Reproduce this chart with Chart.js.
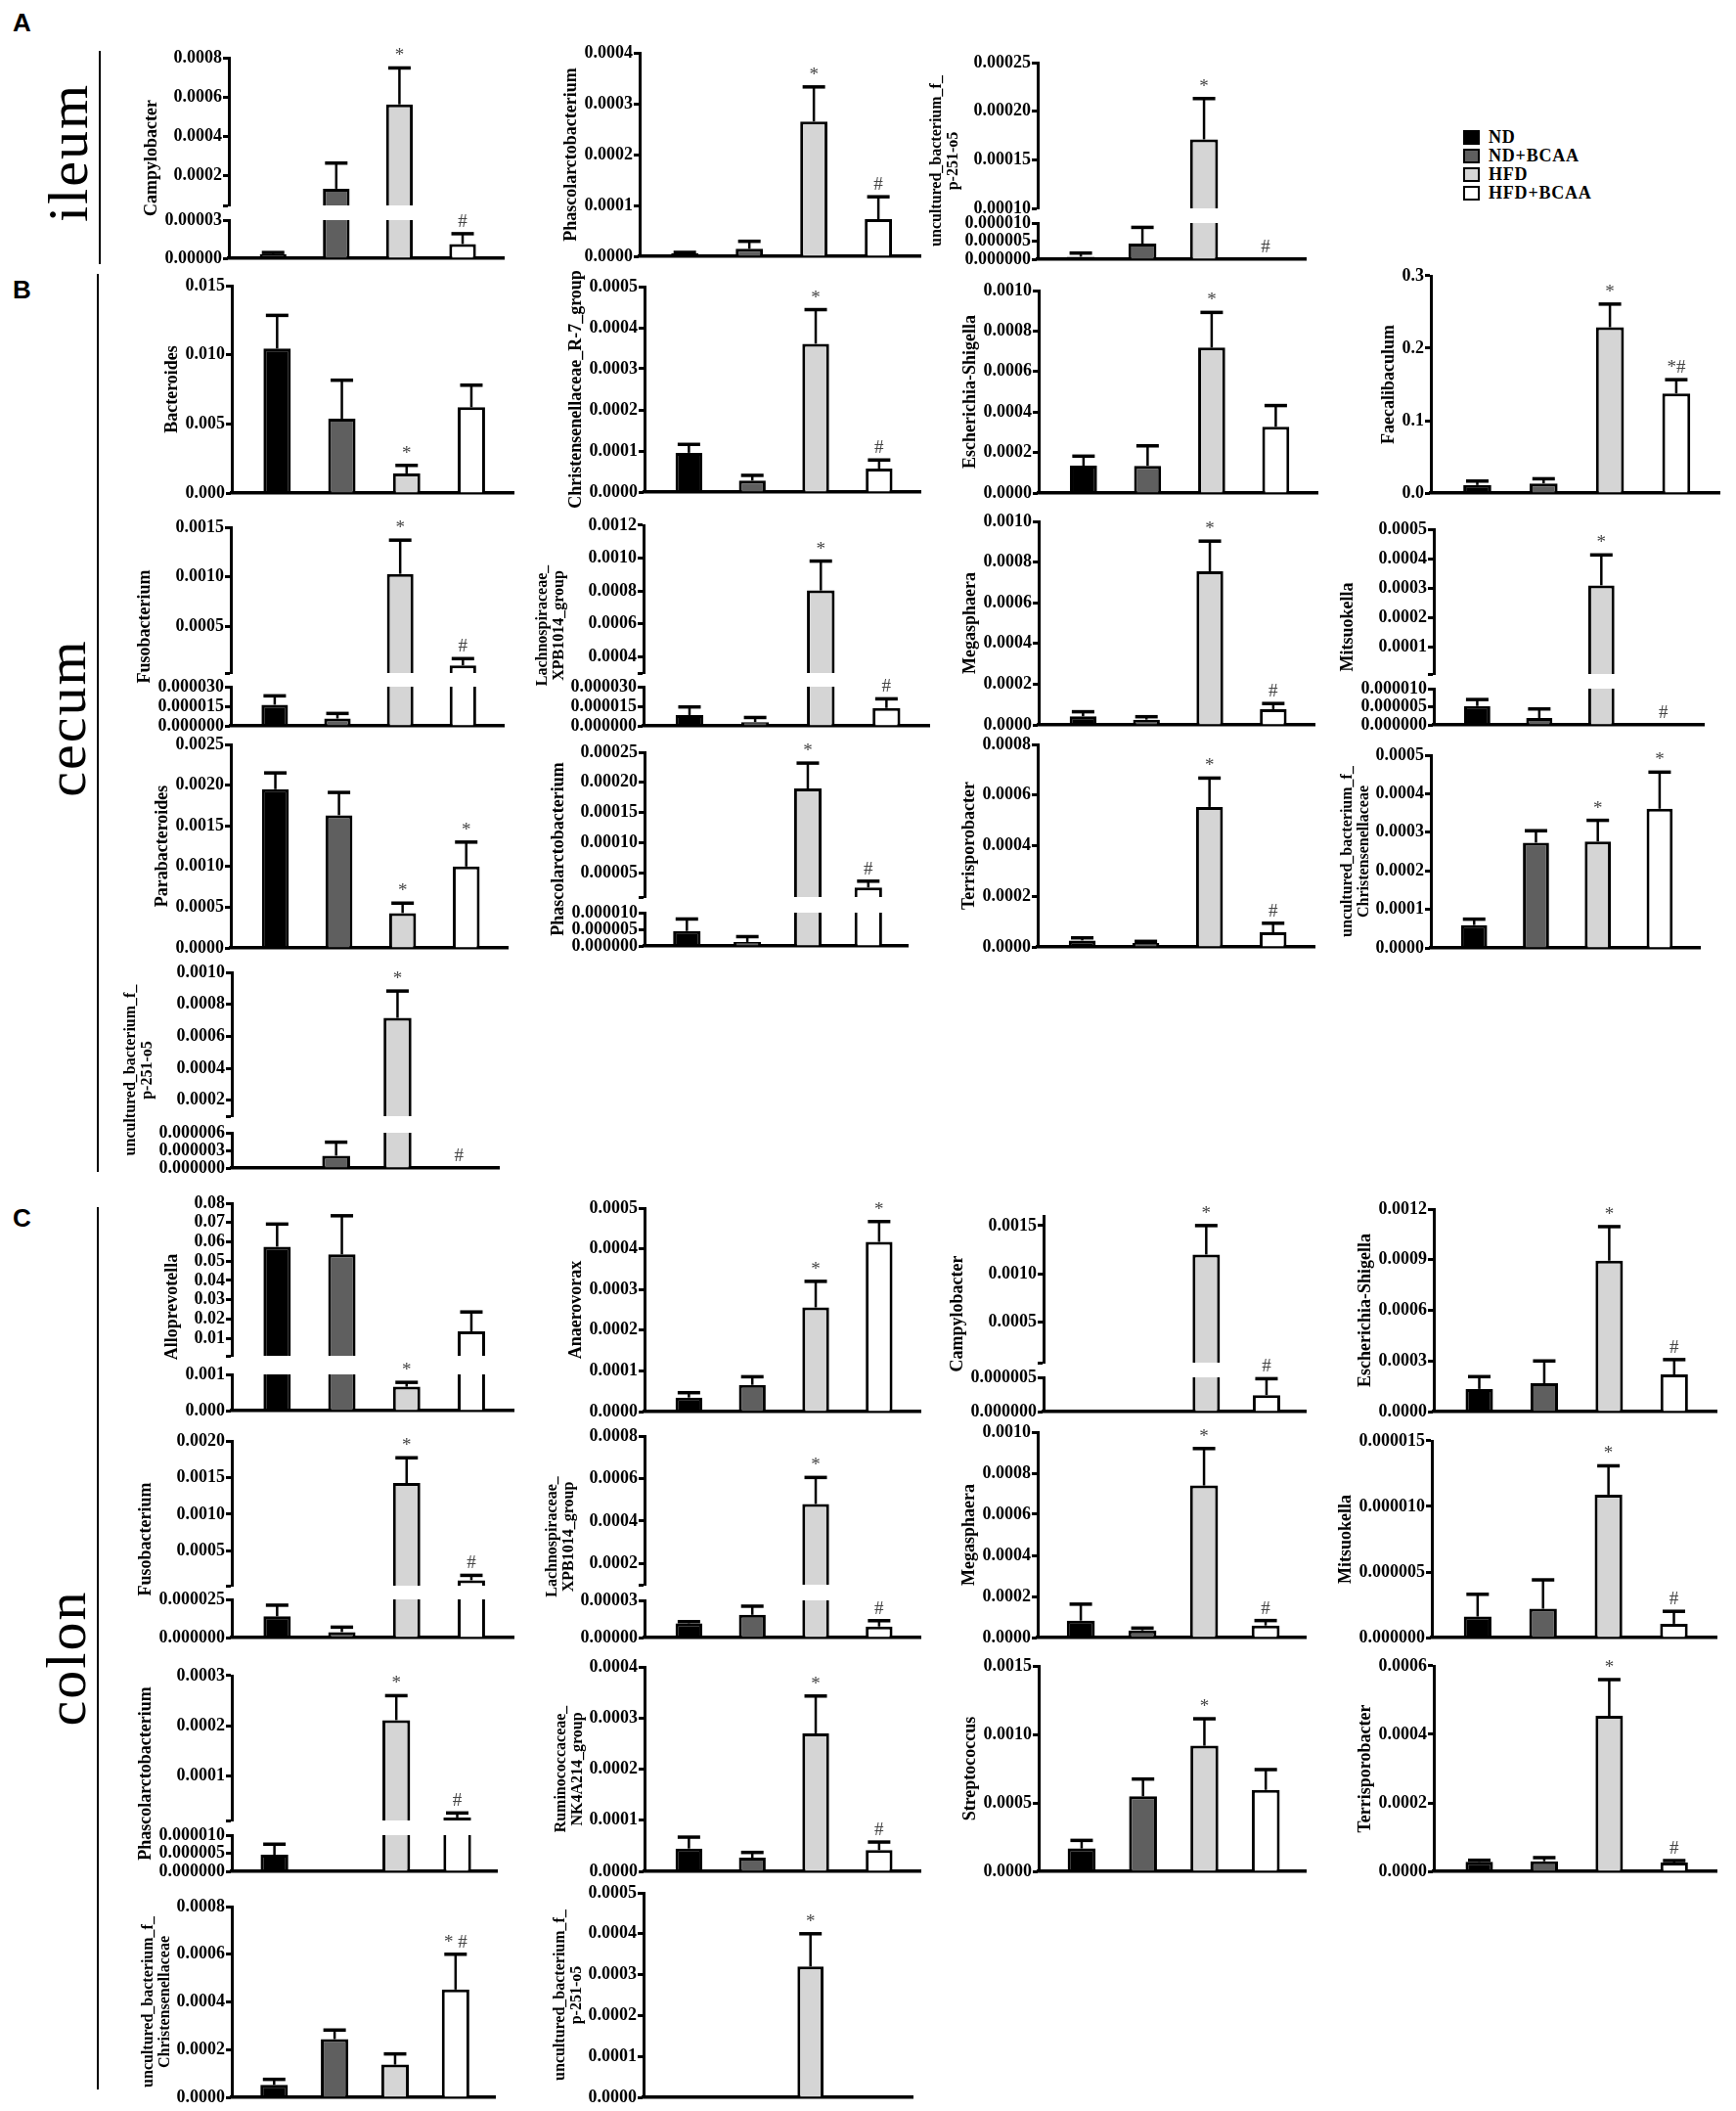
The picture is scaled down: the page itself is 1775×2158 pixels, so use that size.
<!DOCTYPE html>
<html>
<head>
<meta charset="utf-8">
<script src="https://cdn.jsdelivr.net/npm/chart.js"></script>
<style>
  body { margin: 0; background: #fff; width: 1775px; height: 2158px; position: relative; overflow: hidden; }
  canvas { position: absolute; }
  .tag { position: absolute; font: bold 26px "Liberation Sans", Arial, sans-serif; line-height: 1; }
  .site { position: absolute; font: 58px "Liberation Serif", serif; letter-spacing: 2px; line-height: 1; white-space: nowrap;
          transform: translate(-50%, -50%) rotate(-90deg); }
  .rule { position: absolute; width: 2px; background: #000; }
  .legend { position: absolute; left: 1496px; top: 131px; font: bold 18px "Liberation Serif", serif; letter-spacing: 0.8px; }
  .legend div { height: 19px; display: flex; align-items: center; }
  .legend .sw { display: inline-block; width: 13px; height: 11px; border: 2.5px solid #000; margin-right: 9px; }
</style>
</head>
<body>
<div class="tag" style="left:13px;top:10px">A</div>
<div class="tag" style="left:13px;top:283px">B</div>
<div class="tag" style="left:13px;top:1232px">C</div>
<div class="site" style="left:70px;top:156px">ileum</div>
<div class="site" style="left:68px;top:734px">cecum</div>
<div class="site" style="left:68px;top:1695px">colon</div>
<div class="rule" style="left:101px;top:52px;height:218px"></div>
<div class="rule" style="left:99px;top:280px;height:918px"></div>
<div class="rule" style="left:99px;top:1234px;height:902px"></div>
<div class="legend" id="legend"></div>

<script>
const groups = ["ND", "ND+BCAA", "HFD", "HFD+BCAA"];
const groupColors = ["#000000", "#5f5f5f", "#d5d5d5", "#ffffff"];

// ileum
const ileumCampylobacter = [0.0000033, 0.000135, 0.000563, 0.0000112];
const ileumCampylobacterSem = [0.0000012, 0.00013, 0.000185, 0.0000081];
const ileumCampylobacterSig = ["", "", "*", "#"];
const ileumPhascolarctobacterium = [0.0000058, 0.0000147, 0.000265, 0.000073];
const ileumPhascolarctobacteriumSem = [0.0000019, 0.0000148, 0.000068, 0.000044];
const ileumPhascolarctobacteriumSig = ["", "", "*", "#"];
const ileumP2515 = [0.0000007, 0.0000043, 0.000171, 0];
const ileumP2515Sem = [0.000001, 0.0000045, 0.000042, 0];
const ileumP2515Sig = ["", "", "*", "#"];

// cecum
const cecumBacteroides = [0.01045, 0.00538, 0.00142, 0.0062];
const cecumBacteroidesSem = [0.0024, 0.00278, 0.00058, 0.0016];
const cecumBacteroidesSig = ["", "", "*", ""];
const cecumChristensenellaceaeR7 = [0.0000955, 0.0000279, 0.000361, 0.0000573];
const cecumChristensenellaceaeR7Sem = [0.0000205, 0.0000127, 0.000083, 0.0000207];
const cecumChristensenellaceaeR7Sig = ["", "", "*", "#"];
const cecumEscherichia = [0.000135, 0.000134, 0.000718, 0.000327];
const cecumEscherichiaSem = [0.000047, 0.000099, 0.000174, 0.000105];
const cecumEscherichiaSig = ["", "", "*", ""];
const cecumFaecalibaculum = [0.011, 0.0133, 0.229, 0.1376];
const cecumFaecalibaculumSem = [0.0055, 0.0064, 0.032, 0.019];
const cecumFaecalibaculumSig = ["", "", "*", "*#"];
const cecumFusobacterium = [0.0000162, 0.0000056, 0.00103, 0.000107];
const cecumFusobacteriumSem = [0.0000068, 0.0000039, 0.00034, 0.000068];
const cecumFusobacteriumSig = ["", "", "*", "#"];
const cecumLachnospiraceae = [0.0000083, 0.0000029, 0.000803, 0.0000137];
const cecumLachnospiraceaeSem = [0.0000062, 0.0000035, 0.000179, 0.000007];
const cecumLachnospiraceaeSig = ["", "", "*", "#"];
const cecumMegasphaera = [0.000042, 0.0000258, 0.000755, 0.0000774];
const cecumMegasphaeraSem = [0.0000225, 0.0000142, 0.000148, 0.0000276];
const cecumMegasphaeraSig = ["", "", "*", "#"];
const cecumMitsuokella = [0.0000052, 0.0000019, 0.00031, 0];
const cecumMitsuokellaSem = [0.0000018, 0.0000025, 0.000103, 0];
const cecumMitsuokellaSig = ["", "", "*", "#"];
const cecumParabacteroides = [0.00195, 0.00163, 0.000428, 0.001];
const cecumParabacteroidesSem = [0.0002, 0.00028, 0.000122, 0.0003];
const cecumParabacteroidesSig = ["", "", "*", "*"];
const cecumPhascolarctobacterium = [0.0000045, 0.0000012, 0.00019, 0.0000258];
const cecumPhascolarctobacteriumSem = [0.0000036, 0.0000016, 0.000042, 0.0000105];
const cecumPhascolarctobacteriumSig = ["", "", "*", "#"];
const cecumTerrisporobacter = [0.0000256, 0.0000154, 0.000553, 0.0000577];
const cecumTerrisporobacterSem = [0.0000103, 0.0000066, 0.000114, 0.0000359];
const cecumTerrisporobacterSig = ["", "", "*", "#"];
const cecumChristensenellaceae = [0.0000593, 0.000273, 0.000276, 0.000361];
const cecumChristensenellaceaeSem = [0.0000153, 0.000031, 0.000055, 0.000095];
const cecumChristensenellaceaeSig = ["", "", "*", "*"];
const cecumP2515 = [0, 0.0000021, 0.000715, 0];
const cecumP2515Sem = [0, 0.0000023, 0.000168, 0];
const cecumP2515Sig = ["", "", "*", "#"];

// colon
const colonAlloprevotella = [0.0575, 0.0535, 0.00066, 0.0137];
const colonAlloprevotellaSem = [0.0117, 0.02, 0.00012, 0.01];
const colonAlloprevotellaSig = ["", "", "*", ""];
const colonAnaerovorax = [0.0000344, 0.0000656, 0.000256, 0.000417];
const colonAnaerovoraxSem = [0.000012, 0.00002, 0.000064, 0.00005];
const colonAnaerovoraxSig = ["", "", "*", "*"];
const colonCampylobacter = [0, 0, 0.0012, 0.0000024];
const colonCampylobacterSem = [0, 0, 0.0003, 0.0000024];
const colonCampylobacterSig = ["", "", "*", "#"];
const colonEscherichia = [0.000134, 0.000168, 0.000894, 0.00022];
const colonEscherichiaSem = [0.000073, 0.000132, 0.000202, 0.000088];
const colonEscherichiaSig = ["", "", "*", "#"];
const colonFusobacterium = [0.0000139, 0.0000036, 0.001425, 0.0001];
const colonFusobacteriumSem = [0.0000073, 0.0000032, 0.000345, 0.000066];
const colonFusobacteriumSig = ["", "", "*", "#"];
const colonLachnospiraceae = [0.0000115, 0.0000183, 0.00048, 0.0000089];
const colonLachnospiraceaeSem = [0.0000013, 0.000007, 0.000125, 0.0000047];
const colonLachnospiraceaeSig = ["", "", "*", "#"];
const colonMegasphaera = [0.0000825, 0.000035, 0.00074, 0.0000587];
const colonMegasphaeraSem = [0.00008, 0.000011, 0.00018, 0.000024];
const colonMegasphaeraSig = ["", "", "*", "#"];
const colonMitsuokella = [0.0000016, 0.0000022, 0.0000109, 0.00000105];
const colonMitsuokellaSem = [0.0000017, 0.0000022, 0.0000022, 0.00000095];
const colonMitsuokellaSig = ["", "", "*", "#"];
const colonPhascolarctobacterium = [0.0000046, 0, 0.000211, 0.000016];
const colonPhascolarctobacteriumSem = [0.0000029, 0, 0.000049, 0.000009];
const colonPhascolarctobacteriumSig = ["", "", "*", "#"];
const colonRuminococcaceae = [0.0000446, 0.0000268, 0.00027, 0.0000414];
const colonRuminococcaceaeSem = [0.0000223, 0.0000102, 0.000073, 0.0000159];
const colonRuminococcaceaeSig = ["", "", "*", "#"];
const colonStreptococcus = [0.000167, 0.000548, 0.000917, 0.000595];
const colonStreptococcusSem = [0.000059, 0.000126, 0.000197, 0.000148];
const colonStreptococcusSig = ["", "", "*", ""];
const colonTerrisporobacter = [0.0000276, 0.0000295, 0.000454, 0.0000257];
const colonTerrisporobacterSem = [0.0000048, 0.0000105, 0.000106, 0.0000057];
const colonTerrisporobacterSig = ["", "", "*", "#"];
const colonChristensenellaceae = [0.000052, 0.000244, 0.000137, 0.000452];
const colonChristensenellaceaeSem = [0.0000233, 0.000038, 0.000045, 0.000148];
const colonChristensenellaceaeSig = ["", "", "", "* #"];
const colonP2515 = [0, 0, 0.00032, 0];
const colonP2515Sem = [0, 0, 0.00008, 0];
const colonP2515Sig = ["", "", "*", ""];

// panel layout: x0/x1 = x-axis span, top = y of max tick, bottom = y of zero, cut = broken-axis gap
const panels = [
  { title: ["Campylobacter"], mean: ileumCampylobacter, sem: ileumCampylobacterSem, sig: ileumCampylobacterSig,
    x0: 234, x1: 515, top: 59, bottom: 264, cut: [213, 225],
    upper: { min: 0.00005, max: 0.0008, step: 0.0002, dec: 4 }, lower: { max: 0.00003, step: 0.00003, dec: 5 } },
  { title: ["Phascolarctobacterium"], mean: ileumPhascolarctobacterium, sem: ileumPhascolarctobacteriumSem, sig: ileumPhascolarctobacteriumSig,
    x0: 654, x1: 941, top: 54, bottom: 262, axis: { max: 0.0004, step: 0.0001, dec: 4 } },
  { title: ["uncultured_bacterium_f_", "p-251-o5"], mean: ileumP2515, sem: ileumP2515Sem, sig: ileumP2515Sig,
    x0: 1061, x1: 1335, top: 64, bottom: 265, cut: [216, 228],
    upper: { min: 0.0001, max: 0.00025, step: 0.00005, dec: 5 }, lower: { max: 0.00001, step: 0.000005, dec: 6 } },

  { title: ["Bacteroides"], mean: cecumBacteroides, sem: cecumBacteroidesSem, sig: cecumBacteroidesSig,
    x0: 237, x1: 525, top: 292, bottom: 504, axis: { max: 0.015, step: 0.005, dec: 3 } },
  { title: ["Christensenellaceae_R-7_group"], mean: cecumChristensenellaceaeR7, sem: cecumChristensenellaceaeR7Sem, sig: cecumChristensenellaceaeR7Sig,
    x0: 659, x1: 941, top: 293, bottom: 503, axis: { max: 0.0005, step: 0.0001, dec: 4 } },
  { title: ["Escherichia-Shigella"], mean: cecumEscherichia, sem: cecumEscherichiaSem, sig: cecumEscherichiaSig,
    x0: 1062, x1: 1347, top: 297, bottom: 504, axis: { max: 0.001, step: 0.0002, dec: 4 } },
  { title: ["Faecalibaculum"], mean: cecumFaecalibaculum, sem: cecumFaecalibaculumSem, sig: cecumFaecalibaculumSig,
    x0: 1463, x1: 1758, top: 282, bottom: 504, axis: { max: 0.3, step: 0.1, dec: 1 } },

  { title: ["Fusobacterium"], mean: cecumFusobacterium, sem: cecumFusobacteriumSem, sig: cecumFusobacteriumSig,
    x0: 236, x1: 515, top: 539, bottom: 742, cut: [691, 702],
    upper: { min: 0.00003, max: 0.0015, step: 0.0005, dec: 4 }, lower: { max: 0.00003, step: 0.000015, dec: 6 } },
  { title: ["Lachnospiraceae_", "XPB1014_group"], mean: cecumLachnospiraceae, sem: cecumLachnospiraceaeSem, sig: cecumLachnospiraceaeSig,
    x0: 658, x1: 950, top: 537, bottom: 742, cut: [691, 702],
    upper: { min: 0.0003, max: 0.0012, step: 0.0002, dec: 4 }, lower: { max: 0.00003, step: 0.000015, dec: 6 } },
  { title: ["Megasphaera"], mean: cecumMegasphaera, sem: cecumMegasphaeraSem, sig: cecumMegasphaeraSig,
    x0: 1062, x1: 1344, top: 533, bottom: 741, axis: { max: 0.001, step: 0.0002, dec: 4 } },
  { title: ["Mitsuokella"], mean: cecumMitsuokella, sem: cecumMitsuokellaSem, sig: cecumMitsuokellaSig,
    x0: 1466, x1: 1742, top: 541, bottom: 741, cut: [692, 704],
    upper: { min: 0.00001, max: 0.0005, step: 0.0001, dec: 4 }, lower: { max: 0.00001, step: 0.000005, dec: 6 } },

  { title: ["Parabacteroides"], mean: cecumParabacteroides, sem: cecumParabacteroidesSem, sig: cecumParabacteroidesSig,
    x0: 236, x1: 519, top: 761, bottom: 969, axis: { max: 0.0025, step: 0.0005, dec: 4 } },
  { title: ["Phascolarctobacterium"], mean: cecumPhascolarctobacterium, sem: cecumPhascolarctobacteriumSem, sig: cecumPhascolarctobacteriumSig,
    x0: 659, x1: 928, top: 769, bottom: 967, cut: [920, 933],
    upper: { min: 0.00001, max: 0.00025, step: 0.00005, dec: 5 }, lower: { max: 0.00001, step: 0.000005, dec: 6 } },
  { title: ["Terrisporobacter"], mean: cecumTerrisporobacter, sem: cecumTerrisporobacterSem, sig: cecumTerrisporobacterSig,
    x0: 1061, x1: 1344, top: 761, bottom: 968, axis: { max: 0.0008, step: 0.0002, dec: 4 } },
  { title: ["uncultured_bacterium_f_", "Christensenellaceae"], mean: cecumChristensenellaceae, sem: cecumChristensenellaceaeSem, sig: cecumChristensenellaceaeSig,
    x0: 1463, x1: 1738, top: 772, bottom: 969, axis: { max: 0.0005, step: 0.0001, dec: 4 } },

  { title: ["uncultured_bacterium_f_", "p-251-o5"], mean: cecumP2515, sem: cecumP2515Sem, sig: cecumP2515Sig,
    x0: 237, x1: 510, top: 994, bottom: 1194, cut: [1144, 1158],
    upper: { min: 0.0001, max: 0.001, step: 0.0002, dec: 4 }, lower: { max: 0.000006, step: 0.000003, dec: 6 } },

  { title: ["Alloprevotella"], mean: colonAlloprevotella, sem: colonAlloprevotellaSem, sig: colonAlloprevotellaSig,
    x0: 237, x1: 525, top: 1230, bottom: 1442, cut: [1389, 1405],
    upper: { min: 0.001, max: 0.08, step: 0.01, dec: 2 }, lower: { max: 0.001, step: 0.001, dec: 3 } },
  { title: ["Anaerovorax"], mean: colonAnaerovorax, sem: colonAnaerovoraxSem, sig: colonAnaerovoraxSig,
    x0: 659, x1: 941, top: 1235, bottom: 1443, axis: { max: 0.0005, step: 0.0001, dec: 4 } },
  { title: ["Campylobacter"], mean: colonCampylobacter, sem: colonCampylobacterSem, sig: colonCampylobacterSig,
    x0: 1067, x1: 1335, top: 1243, bottom: 1443, cut: [1396, 1408],
    upper: { min: 0.00008, max: 0.0016, step: 0.0005, dec: 4 }, lower: { max: 0.000005, step: 0.000005, dec: 6 } },
  { title: ["Escherichia-Shigella"], mean: colonEscherichia, sem: colonEscherichiaSem, sig: colonEscherichiaSig,
    x0: 1466, x1: 1755, top: 1236, bottom: 1443, axis: { max: 0.0012, step: 0.0003, dec: 4 } },

  { title: ["Fusobacterium"], mean: colonFusobacterium, sem: colonFusobacteriumSem, sig: colonFusobacteriumSig,
    x0: 237, x1: 525, top: 1473, bottom: 1674, cut: [1624, 1635],
    upper: { min: 0.000025, max: 0.002, step: 0.0005, dec: 4 }, lower: { max: 0.000025, step: 0.000025, dec: 6 } },
  { title: ["Lachnospiraceae_", "XPB1014_group"], mean: colonLachnospiraceae, sem: colonLachnospiraceaeSem, sig: colonLachnospiraceaeSig,
    x0: 659, x1: 941, top: 1468, bottom: 1674, cut: [1623, 1636],
    upper: { min: 0.0001, max: 0.0008, step: 0.0002, dec: 4 }, lower: { max: 0.00003, step: 0.00003, dec: 5 } },
  { title: ["Megasphaera"], mean: colonMegasphaera, sem: colonMegasphaeraSem, sig: colonMegasphaeraSig,
    x0: 1061, x1: 1335, top: 1464, bottom: 1674, axis: { max: 0.001, step: 0.0002, dec: 4 } },
  { title: ["Mitsuokella"], mean: colonMitsuokella, sem: colonMitsuokellaSem, sig: colonMitsuokellaSig,
    x0: 1464, x1: 1755, top: 1473, bottom: 1674, axis: { max: 0.000015, step: 0.000005, dec: 6 } },

  { title: ["Phascolarctobacterium"], mean: colonPhascolarctobacterium, sem: colonPhascolarctobacteriumSem, sig: colonPhascolarctobacteriumSig,
    x0: 237, x1: 508, top: 1713, bottom: 1913, cut: [1864, 1876],
    upper: { min: 0.00001, max: 0.0003, step: 0.0001, dec: 4 }, lower: { max: 0.00001, step: 0.000005, dec: 6 } },
  { title: ["Ruminococcaceae_", "NK4A214_group"], mean: colonRuminococcaceae, sem: colonRuminococcaceaeSem, sig: colonRuminococcaceaeSig,
    x0: 659, x1: 941, top: 1704, bottom: 1913, axis: { max: 0.0004, step: 0.0001, dec: 4 } },
  { title: ["Streptococcus"], mean: colonStreptococcus, sem: colonStreptococcusSem, sig: colonStreptococcusSig,
    x0: 1062, x1: 1335, top: 1703, bottom: 1913, axis: { max: 0.0015, step: 0.0005, dec: 4 } },
  { title: ["Terrisporobacter"], mean: colonTerrisporobacter, sem: colonTerrisporobacterSem, sig: colonTerrisporobacterSig,
    x0: 1466, x1: 1755, top: 1703, bottom: 1913, axis: { max: 0.0006, step: 0.0002, dec: 4 } },

  { title: ["uncultured_bacterium_f_", "Christensenellaceae"], mean: colonChristensenellaceae, sem: colonChristensenellaceaeSem, sig: colonChristensenellaceaeSig,
    x0: 237, x1: 506, top: 1949, bottom: 2144, axis: { max: 0.0008, step: 0.0002, dec: 4 } },
  { title: ["uncultured_bacterium_f_", "p-251-o5"], mean: colonP2515, sem: colonP2515Sem, sig: colonP2515Sig,
    x0: 658, x1: 933, top: 1935, bottom: 2144, axis: { max: 0.0005, step: 0.0001, dec: 4 } },
];

const LW = 160, PT = 36, PR = 12, PB = 14, XH = 3, LOWPAD = 22;
const tickFont = 'bold 18px "Liberation Serif"';

function tickValues(min, max, step) {
  const out = [min];
  let k = Math.ceil(min / step - 1e-6);
  if (Math.abs(k * step - min) < step * 1e-6) k++;
  for (; k * step <= max * (1 + 1e-9); k++) out.push(k * step);
  return out;
}

function onStep(v, step) {
  const r = v / step;
  return Math.abs(r - Math.round(r)) < 1e-6;
}

function tickLabels(seg) {
  return tickValues(seg.min, seg.max, seg.step).map(v =>
    (v === seg.min && !onStep(v, seg.step)) ? "" : v.toFixed(seg.dec));
}

function marksPlugin(p, seg, owns, titleY, allLabels) {
  return {
    id: "marks",
    afterDatasetsDraw(chart) {
      const ctx = chart.ctx, ys = chart.scales.y, a = chart.chartArea;
      const meta = chart.getDatasetMeta(0);
      ctx.save();
      ctx.beginPath();
      ctx.rect(a.left, a.top - 3, a.right - a.left, a.bottom - a.top + 3);
      ctx.clip();
      ctx.strokeStyle = "#000";
      p.mean.forEach((m, i) => {
        const s = p.sem[i];
        if (!s) return;
        const x = meta.data[i].x;
        const y0 = ys.getPixelForValue(m), y1 = ys.getPixelForValue(m + s);
        if (y1 > a.bottom - 1) return;
        ctx.lineWidth = 2.5;
        ctx.beginPath(); ctx.moveTo(x, y0); ctx.lineTo(x, y1); ctx.stroke();
        if (y1 < a.top - 2) return;
        ctx.lineWidth = 3.5;
        ctx.beginPath(); ctx.moveTo(x - 11.5, y1); ctx.lineTo(x + 11.5, y1); ctx.stroke();
      });
      ctx.restore();

      ctx.save();
      ctx.fillStyle = "#444";
      ctx.font = '19px "Liberation Serif"';
      ctx.textAlign = "center";
      ctx.textBaseline = "alphabetic";
      p.sig.forEach((t, i) => {
        if (!t) return;
        const v = p.mean[i] + p.sem[i];
        if (!owns(v)) return;
        const x = meta.data[i].x;
        ctx.fillText(t, x, ys.getPixelForValue(v) - 7);
      });
      ctx.restore();
    },
    afterDraw(chart) {
      if (seg.role === "lower") return;
      const ctx = chart.ctx, a = chart.chartArea;
      ctx.save();
      ctx.font = tickFont;
      let w = 0;
      allLabels.forEach(l => { w = Math.max(w, ctx.measureText(l).width); });
      const x = a.left - 6 - 1 - w - 4;
      const n = p.title.length;
      const size = n > 1 ? 16 : 18;
      ctx.translate(x, titleY);
      ctx.rotate(-Math.PI / 2);
      ctx.font = 'bold ' + size + 'px "Liberation Serif"';
      ctx.fillStyle = "#000";
      ctx.textAlign = "center";
      ctx.textBaseline = "bottom";
      p.title.forEach((line, k) => ctx.fillText(line, 0, -(n - 1 - k) * (size + 1)));
      ctx.restore();
    }
  };
}

function addCanvas(left, top, w, h) {
  const c = document.createElement("canvas");
  c.width = w; c.height = h;
  c.style.left = left + "px"; c.style.top = top + "px";
  c.style.width = w + "px"; c.style.height = h + "px";
  document.body.appendChild(c);
  return c;
}

function drawPanel(p) {
  const w = LW + (p.x1 - p.x0) + PR;
  const left = p.x0 - LW;
  const segs = p.axis
    ? [{ role: "single", min: 0, ...p.axis }]
    : [{ role: "upper", ...p.upper }, { role: "lower", min: 0, ...p.lower }];
  const allLabels = segs.flatMap(tickLabels);
  const lowMax = p.axis ? null : p.lower.max;

  segs.forEach(seg => {
    let top, h, pad;
    if (seg.role === "lower") {
      top = p.cut[1] - LOWPAD;
      h = p.bottom + XH + PB - top;
      pad = { top: LOWPAD, bottom: PB };
    } else {
      top = p.top - PT;
      h = p.bottom + XH + PB - top;
      pad = { top: PT, bottom: seg.role === "upper" ? h - (p.cut[0] - top) : PB };
    }
    const owns = seg.role === "single" ? () => true
      : seg.role === "upper" ? v => v > lowMax : v => v <= lowMax;
    const vals = tickValues(seg.min, seg.max, seg.step);
    const labels = tickLabels(seg);
    const titleY = (p.top + p.bottom) / 2 - top;

    new Chart(addCanvas(left, top, w, h), {
      type: "bar",
      data: {
        datasets: [{
          data: p.mean.map((v, i) => ({ x: i, y: v })),
          backgroundColor: groupColors,
          borderColor: "#000",
          borderWidth: 3,
          borderSkipped: "start",
          barPercentage: 0.65,
          categoryPercentage: 1,
          clip: 0,
        }],
      },
      options: {
        responsive: false,
        animation: false,
        devicePixelRatio: 1,
        events: [],
        layout: { padding: { top: pad.top, bottom: pad.bottom, left: 0, right: PR } },
        plugins: { legend: { display: false }, tooltip: { enabled: false } },
        scales: {
          x: {
            type: "linear", min: -0.7, max: 3.65, offset: false,
            display: seg.role !== "upper",
            ticks: { display: false },
            grid: { display: false },
            border: { display: true, width: 3.5, color: "#000" },
            afterFit: s => { s.height = XH; },
          },
          y: {
            type: "linear", min: seg.min, max: seg.max,
            afterBuildTicks: s => { s.ticks = vals.map(v => ({ value: v })); },
            afterFit: s => { s.width = LW; },
            ticks: {
              autoSkip: false, padding: 1, color: "#000",
              font: { family: "Liberation Serif", weight: "bold", size: 18 },
              callback: (v, i) => labels[i],
            },
            grid: { drawOnChartArea: false, drawTicks: true, tickLength: 6, tickWidth: 3, tickColor: "#000" },
            border: { display: true, width: 3, color: "#000" },
          },
        },
      },
      plugins: [marksPlugin(p, seg, owns, titleY, allLabels)],
    });
  });
}

panels.forEach(drawPanel);

const legend = document.getElementById("legend");
groups.forEach((g, i) => {
  const row = document.createElement("div");
  const sw = document.createElement("span");
  sw.className = "sw";
  sw.style.background = groupColors[i];
  row.appendChild(sw);
  row.appendChild(document.createTextNode(g));
  legend.appendChild(row);
});
</script>
</body>
</html>
